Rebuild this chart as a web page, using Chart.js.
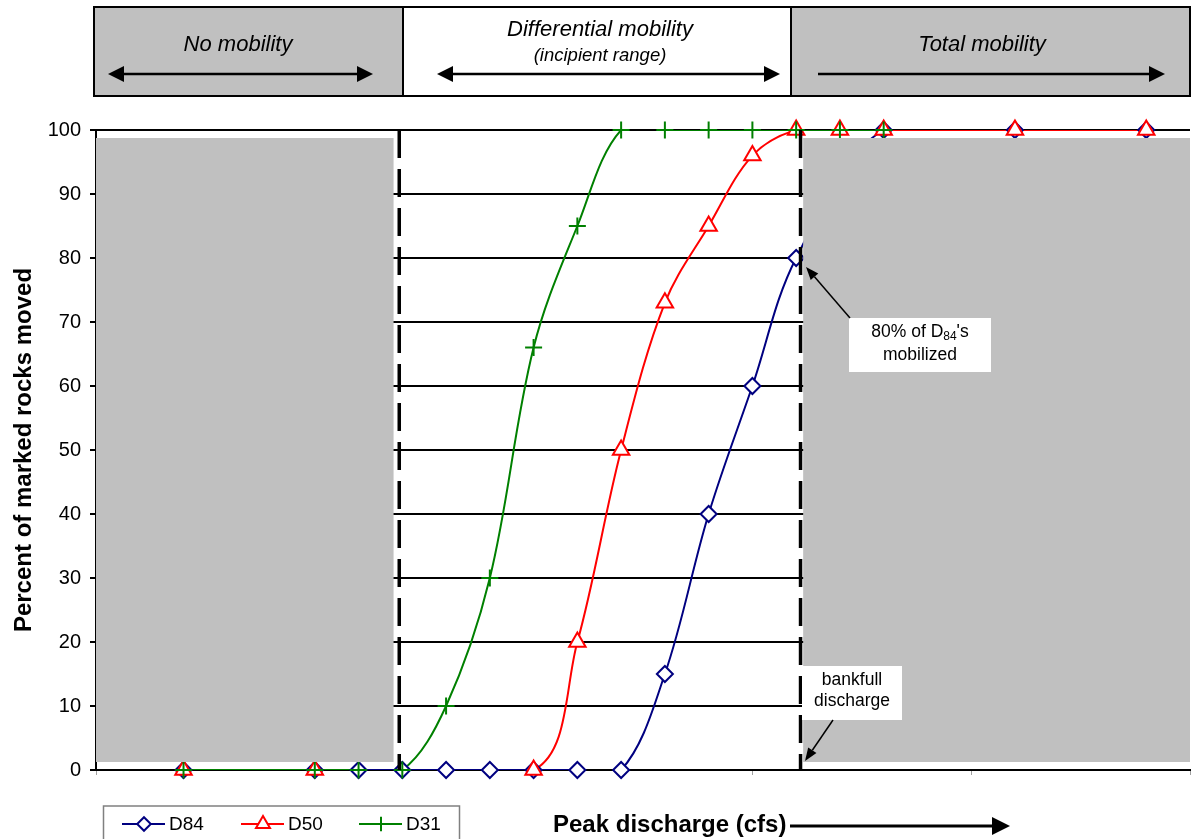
<!DOCTYPE html>
<html>
<head>
<meta charset="utf-8">
<script src="https://cdn.jsdelivr.net/npm/chart.js@4.4.1/dist/chart.umd.min.js"></script>
<style>
  html, body { margin: 0; padding: 0; background: #fff; }
  #wrap { width: 1193px; height: 839px; position: relative; }
</style>
</head>
<body>
<div id="wrap"><canvas id="rocks"></canvas></div>
<script>
// peak discharge step (x) and percent of marked rocks moved (y)
var flowD84 = [2, 5, 6, 7, 8, 9, 10, 11, 12, 13, 14, 15, 16, 18, 21, 24];
var movedD84 = [0, 0, 0, 0, 0, 0, 0, 0, 0, 15, 40, 60, 80, 100, 100, 100];
var flowD50 = [2, 5, 10, 11, 12, 13, 14, 15, 16, 17, 18, 21, 24];
var movedD50 = [0, 0, 0, 20, 50, 73, 85, 96, 100, 100, 100, 100, 100];
var flowD31 = [2, 5, 6, 7, 8, 9, 10, 11, 12, 13, 14, 15, 16, 17, 18];
var movedD31 = [0, 0, 0, 0, 10, 30, 66, 85, 100, 100, 100, 100, 100, 100, 100];

var seriesNames = ['D84', 'D50', 'D31'];
var zoneNames = ['No mobility', 'Differential mobility', '(incipient range)', 'Total mobility'];

// zone limits, in discharge units
var incipientStart = 6.93;
var bankfull = 16.1;

var FONT = '"Liberation Sans", Arial, sans-serif';

var looks = [
  { color: '#000080', style: 'rectRot', radius: 8 },
  { color: '#ff0000', style: 'triangle', radius: 9.5 },
  { color: '#008000', style: 'cross', radius: 8.5 }
];

function pts(xs, ys) {
  return xs.map(function (x, i) { return { x: x, y: ys[i] }; });
}

function arrow(ctx, x1, y1, x2, y2, len, half) {
  var a = Math.atan2(y2 - y1, x2 - x1);
  var bx = x2 - Math.cos(a) * len, by = y2 - Math.sin(a) * len;
  ctx.beginPath();
  ctx.moveTo(x1, y1);
  ctx.lineTo(bx, by);
  ctx.stroke();
  ctx.beginPath();
  ctx.moveTo(x2, y2);
  ctx.lineTo(bx + Math.sin(a) * half, by - Math.cos(a) * half);
  ctx.lineTo(bx - Math.sin(a) * half, by + Math.cos(a) * half);
  ctx.closePath();
  ctx.fill();
}

var zones = {
  id: 'zones',
  afterDatasetsDraw: function (chart) {
    var ctx = chart.ctx, x = chart.scales.x, y = chart.scales.y;
    ctx.save();
    var top = y.getPixelForValue(98.75), bot = y.getPixelForValue(1.25);
    ctx.fillStyle = '#c0c0c0';
    ctx.fillRect(x.left, top, x.getPixelForValue(6.8) - x.left, bot - top);
    var r0 = x.getPixelForValue(16.16);
    ctx.fillRect(r0, top, x.right - r0, bot - top);

    ctx.strokeStyle = '#000';
    ctx.lineWidth = 3.5;
    ctx.setLineDash([28, 11]);
    [incipientStart, bankfull].forEach(function (v) {
      var px = x.getPixelForValue(v);
      ctx.beginPath();
      ctx.moveTo(px, y.top);
      ctx.lineTo(px, y.bottom);
      ctx.stroke();
    });
    ctx.restore();
  },
  afterDraw: function (chart) {
    var ctx = chart.ctx;
    ctx.save();

    // header boxes
    ctx.lineWidth = 2;
    ctx.strokeStyle = '#000';
    ctx.fillStyle = '#c0c0c0';
    ctx.fillRect(94, 7, 309, 89);
    ctx.fillRect(791, 7, 399, 89);
    ctx.strokeRect(94, 7, 1096, 89);
    ctx.beginPath();
    ctx.moveTo(403, 7); ctx.lineTo(403, 96);
    ctx.moveTo(791, 7); ctx.lineTo(791, 96);
    ctx.stroke();

    ctx.fillStyle = '#000';
    ctx.textAlign = 'center';
    ctx.textBaseline = 'middle';
    ctx.font = 'italic 22px ' + FONT;
    ctx.fillText(zoneNames[0], 238, 45);
    ctx.fillText(zoneNames[1], 600, 30);
    ctx.fillText(zoneNames[3], 982, 45);
    ctx.font = 'italic 18.5px ' + FONT;
    ctx.fillText(zoneNames[2], 600, 56);

    ctx.lineWidth = 2.5;
    arrow(ctx, 240, 74, 373, 74, 16, 8);
    arrow(ctx, 240, 74, 108, 74, 16, 8);
    arrow(ctx, 608, 74, 780, 74, 16, 8);
    arrow(ctx, 608, 74, 437, 74, 16, 8);
    arrow(ctx, 818, 74, 1165, 74, 16, 8);

    // callouts
    ctx.fillStyle = '#fff';
    ctx.fillRect(849, 318, 142, 54);
    ctx.fillRect(802, 666, 100, 54);
    ctx.fillStyle = '#000';
    ctx.font = '17.5px ' + FONT;
    var a = '80% of D', s = '84', b = "'s";
    var wa = ctx.measureText(a).width, wb = ctx.measureText(b).width;
    ctx.font = '12px ' + FONT;
    var ws = ctx.measureText(s).width;
    var sx = 920 - (wa + ws + wb) / 2;
    ctx.textAlign = 'left';
    ctx.font = '17.5px ' + FONT;
    ctx.fillText(a, sx, 332);
    ctx.fillText(b, sx + wa + ws, 332);
    ctx.font = '12px ' + FONT;
    ctx.fillText(s, sx + wa, 337);
    ctx.textAlign = 'center';
    ctx.font = '17.5px ' + FONT;
    ctx.fillText('mobilized', 920, 355);
    ctx.fillText('bankfull', 852, 680);
    ctx.fillText('discharge', 852, 701);
    ctx.lineWidth = 1.5;
    arrow(ctx, 850, 318, 806, 267, 13, 5);
    arrow(ctx, 833, 720, 805, 761, 13, 5);

    // x title with arrow
    ctx.font = 'bold 24px ' + FONT;
    ctx.textAlign = 'left';
    ctx.fillText('Peak discharge (cfs)', 553, 825);
    ctx.lineWidth = 3;
    arrow(ctx, 790, 826, 1010, 826, 18, 9);

    // legend
    ctx.strokeStyle = '#808080';
    ctx.lineWidth = 1.5;
    ctx.strokeRect(103.5, 806, 356, 50);
    var lx = [122, 241, 359];
    ctx.font = '19px ' + FONT;
    ctx.textBaseline = 'middle';
    looks.forEach(function (lk, i) {
      var y0 = 824, x0 = lx[i];
      ctx.strokeStyle = lk.color;
      ctx.lineWidth = 2;
      ctx.beginPath();
      ctx.moveTo(x0, y0); ctx.lineTo(x0 + 43, y0);
      ctx.stroke();
      ctx.fillStyle = '#fff';
      Chart.helpers.drawPoint(ctx, { pointStyle: lk.style, radius: lk.radius * 0.85, borderWidth: 2, rotation: 0 }, x0 + 22, y0);
      ctx.fillStyle = '#000';
      ctx.textAlign = 'left';
      ctx.fillText(seriesNames[i], x0 + 47, y0 + 1);
    });
    ctx.restore();
  }
};

var series = [pts(flowD84, movedD84), pts(flowD50, movedD50), pts(flowD31, movedD31)];
var datasets = [];
// smoothed lines, clipped to the plot area
series.forEach(function (d, i) {
  datasets.push({
    label: seriesNames[i], data: d, borderColor: looks[i].color, borderWidth: 2,
    pointRadius: 0, tension: 0.35, capBezierPoints: false, fill: false, order: 6 - i
  });
});
// markers on top, not clipped
series.forEach(function (d, i) {
  datasets.push({
    label: seriesNames[i], data: d, showLine: false, clip: false,
    borderColor: looks[i].color, pointBorderColor: looks[i].color, pointBackgroundColor: '#fff',
    pointStyle: looks[i].style, pointRadius: looks[i].radius, pointBorderWidth: 2, order: 3 - i
  });
});

new Chart(document.getElementById('rocks'), {
  type: 'line',
  data: { datasets: datasets },
  options: {
    responsive: true,
    maintainAspectRatio: false,
    animation: false,
    elements: { line: { capBezierPoints: false } },
    layout: { autoPadding: false, padding: { top: 130, right: 3, left: 0, bottom: 0 } },
    plugins: { legend: { display: false }, tooltip: { enabled: false } },
    scales: {
      x: {
        type: 'linear', min: 0, max: 25,
        ticks: { stepSize: 5, display: false },
        grid: { drawOnChartArea: false, drawTicks: true, tickLength: 5, color: '#a0a0a0' },
        border: { display: true, color: '#000', width: 2 },
        afterFit: function (s) { s.height = 69; s.paddingLeft = 0; s.paddingRight = 0; }
      },
      y: {
        min: 0, max: 100,
        ticks: { stepSize: 10, color: '#000', padding: 9, font: { family: FONT, size: 20 } },
        grid: { color: '#000', lineWidth: 2, tickLength: 6 },
        border: { display: true, color: '#000', width: 2 },
        title: {
          display: true, text: 'Percent of marked rocks moved', color: '#000',
          font: { family: FONT, size: 24, weight: 'bold' }, padding: { top: 10, bottom: 0 }
        },
        afterFit: function (s) { s.width = 96; s.paddingTop = 0; s.paddingBottom = 0; }
      }
    }
  },
  plugins: [zones]
});
</script>
</body>
</html>
